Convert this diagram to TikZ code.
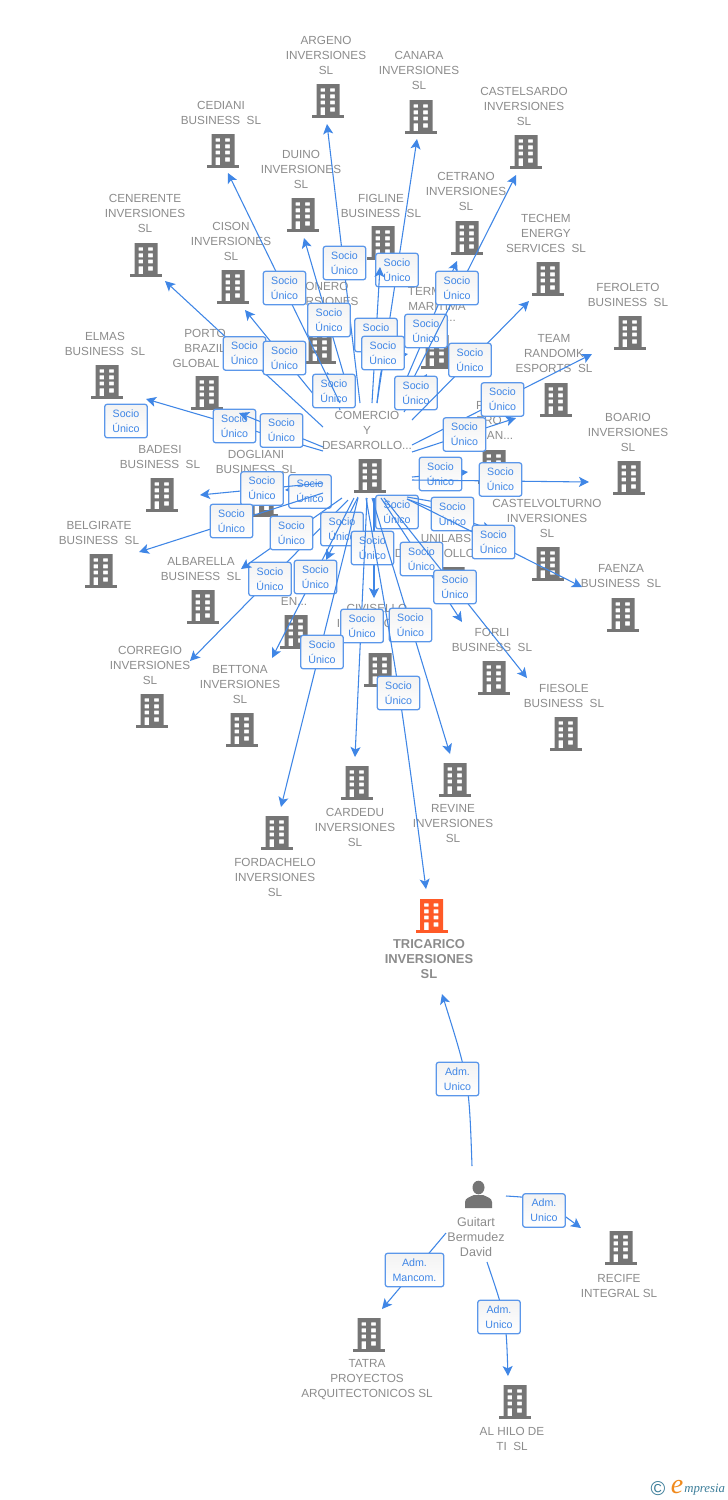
\documentclass[tikz,border=0pt]{standalone}
\usepackage{fontspec}
\setmainfont{Liberation Sans}
\newfontfamily\logoserif{Liberation Serif}
\usetikzlibrary{arrows.meta,shadings}
\definecolor{txtgray}{HTML}{8C8C8C}
\definecolor{bldgray}{HTML}{757575}
\definecolor{hot}{HTML}{FF5A27}
\definecolor{edgeblue}{HTML}{3F86E6}
\definecolor{tagblue}{HTML}{5B97EA}
\definecolor{tagtext}{HTML}{3F86E6}
\definecolor{logoteal}{HTML}{3B7D99}
\definecolor{logoorange}{HTML}{F08A1D}
\tikzset{
  x=0.75pt,y=-0.75pt,
  txt/.style={text=txtgray,align=center,inner sep=0pt,font=\fontsize{8.8}{11.25}\selectfont},
  txtb/.style={txt,font=\fontsize{9.7}{11.25}\selectfont\bfseries},
  txtp/.style={txt,font=\fontsize{9.4}{11.25}\selectfont},
  conn/.style={draw=edgeblue,line width=0.8pt,-{Stealth[length=7.5pt,width=7.5pt,inset=1.8pt]}},
  tagbox/.style={draw=tagblue,line width=0.95pt,rounded corners=2pt,top color=black!5,bottom color=white,
    minimum width=32pt,minimum height=25.2pt,inner sep=0pt,align=center,text=tagtext,
    font=\fontsize{8}{11.25}\selectfont},
  bldbox/.style={inner sep=0pt,minimum width=24pt,minimum height=25.5pt}
}
% building: name, x, y, colour
\newcommand\bldg[4][bldgray]{%
  \begin{scope}[shift={(#3,#4)}]
    \node[bldbox] (#2) at (0,0) {};
    \fill[#1,even odd rule] (-11.5,-17) rectangle (11.5,14.3)
      (-7.5,-12.7) rectangle (-2.8,-9.3) (2.2,-12.7) rectangle (6.8,-9.3)
      (-7.5,-6.7) rectangle (-2.8,-2.7) (2.2,-6.7) rectangle (6.8,-2.7)
      (-7.5,-0.3) rectangle (-2.8,3.3) (2.2,-0.3) rectangle (6.8,3.3)
      (-7.5,6.3) rectangle (-2.8,14.3) (2.2,6.3) rectangle (6.8,10.7);
    \fill[#1] (-16,14) rectangle (16,17);
  \end{scope}}
\newcommand\lab[3]{\node[txt] (#1) at (#2) {#3};}
\newcommand\edge[3]{\coordinate (#1-s) at (#2); \coordinate (#1-t) at (#3); \draw[conn] (#1-s) -- (#1-t);}
\newcommand\edgec[4]{\coordinate (#1-s) at (#2); \coordinate (#1-c) at (#3); \coordinate (#1-t) at (#4); \draw[conn] (#1-s) .. controls (#1-c) .. (#1-t);}
\newcommand\socio[2]{\node[tagbox] (#1-b) at (#2) {Socio\\Único};}
\newcommand\adm[3]{\node[tagbox,#3] (#1-b) at (#2) {Adm.\\Unico};}
\newcommand\BS{BUSINESS\ \ SL}
\begin{document}
\begin{tikzpicture}
\useasboundingbox (0,0) rectangle (728,1500);
\fill[white] (0,0) rectangle (728,1500);
% labels
\lab{l1}{326,55.5}{ARGENO\\INVERSIONES\\SL}
\lab{l2}{419,70}{CANARA\\INVERSIONES\\SL}
\lab{l3}{524,106}{CASTELSARDO\\INVERSIONES\\SL}
\lab{l4}{221,112.5}{CEDIANI\\\BS}
\lab{l5}{301,169}{DUINO\\INVERSIONES\\SL}
\lab{l6}{381,205.5}{FIGLINE\\\BS}
\lab{l7}{466,191}{CETRANO\\INVERSIONES\\SL}
\lab{l8}{546,233}{TECHEM\\ENERGY\\SERVICES\ \ SL}
\lab{l9}{628,294.5}{FEROLETO\\\BS}
\lab{l10}{145,213}{CENERENTE\\INVERSIONES\\SL}
\lab{l11}{231,241}{CISON\\INVERSIONES\\SL}
\lab{l12a}{327,286}{ONERO}
\lab{l12b}{332,301}{RSIONES}
\lab{l13a}{424.5,291}{TERM}
\lab{l13b}{437,306}{MARITIMA}
\lab{l13c}{451,321}{...}
\lab{l14a}{205,333}{PORTO}
\lab{l14b}{205,348}{BRAZIL}
\lab{l14c}{196,363}{GLOBAL}
\lab{l15}{554,354}{TEAM\\RANDOMK\\ESPORTS\ \ SL}
\lab{l16}{628,432}{BOARIO\\INVERSIONES\\SL}
\lab{l17}{105,343.5}{ELMAS\\\BS}
\lab{l18}{160,456.5}{BADESI\\\BS}
\lab{l19}{256,461.5}{DOGLIANI\\\BS}
\lab{l20}{367,430}{COMERCIO\\Y\\DESARROLLO...}
\lab{l21a}{480,405}{P}
\lab{l21b}{489,420}{ERO}
\lab{l21c}{500,435}{AN...}
\lab{l22}{547,518}{CASTELVOLTURNO\\INVERSIONES\\SL}
\lab{l23}{621,576.5}{FAENZA\\\BS}
\lab{l24a}{446,538}{UNILABS}
\lab{l24b}{435,553}{DESARROLLO}
\lab{l25}{201,569.5}{ALBARELLA\\\BS}
\lab{l26}{99,532.5}{BELGIRATE\\\BS}
\lab{l27}{492,639.5}{FORLI\\\BS}
\lab{l28}{564,695.5}{FIESOLE\\\BS}
\lab{l29}{377,623}{CIVISELLO\\INVERSIONES\\SL}
\lab{l30}{150,665}{CORREGIO\\INVERSIONES\\SL}
\lab{l31}{240,684}{BETTONA\\INVERSIONES\\SL}
\lab{l32}{294,601}{EN...}
\lab{l33}{355,827}{CARDEDU\\INVERSIONES\\SL}
\lab{l34}{453,824}{REVINE\\INVERSIONES\\SL}
\lab{l35}{275,877}{FORDACHELO\\INVERSIONES\\SL}
\node[txtb] (l36) at (429,959.5) {TRICARICO\\INVERSIONES\\SL};
\node[txtp] (l37) at (476,1237) {Guitart\\Bermudez\\David};
\lab{l38}{619,1285.5}{RECIFE\\INTEGRAL SL}
\lab{l39}{367,1380}{TATRA\\PROYECTOS\\ARQUITECTONICOS SL}
\lab{l40}{512,1438.5}{AL HILO DE\\TI\ \ SL}
% buildings
\bldg{b1}{328}{101}
\bldg{b2}{421}{117}
\bldg{b3}{526}{152}
\bldg{b4}{223}{151}
\bldg{b5}{303}{215}
\bldg{b6}{383}{243}
\bldg{b7}{467}{238}
\bldg{b8}{548}{279}
\bldg{b9}{630}{333}
\bldg{b10}{146}{260}
\bldg{b11}{233}{287}
\bldg{b12}{320}{347}
\bldg{b13}{437}{352}
\bldg{b14}{207}{393}
\bldg{b15}{556}{400}
\bldg{b16}{629}{478}
\bldg{b17}{107}{382}
\bldg{b18}{162}{495}
\bldg{b19}{262}{499.5}
\bldg{center}{370}{476}
\bldg{b21}{494}{467}
\bldg{b22}{548}{564}
\bldg{b23}{623}{615}
\bldg{b24}{453}{584}
\bldg{b25}{203}{607}
\bldg{b26}{101}{571}
\bldg{b27}{494}{678}
\bldg{b28}{566}{734}
\bldg{b29}{380}{670}
\bldg{b30}{152}{711}
\bldg{b31}{242}{730}
\bldg{b32}{296}{632}
\bldg{b33}{357}{783}
\bldg{b34}{455}{780}
\bldg{b35}{277}{833}
\bldg[hot]{b36}{431.5}{916}
\bldg{b38}{621}{1248}
\bldg{b39}{369}{1335}
\bldg{b40}{515}{1402}
% person
\node[inner sep=0pt,minimum width=21pt,minimum height=21pt] (person) at (478.5,1195) {};
\fill[bldgray] (478.5,1187.5) ellipse (6 and 6.8);
\fill[bldgray] (465,1208) -- (465,1202) .. controls (465,1198) and (470,1197) .. (474,1195) -- (483,1195)
  .. controls (487,1197) and (492,1198) .. (492,1202) -- (492,1208) -- cycle;
% connectors, in stacking order
\edge{e1}{360,403}{327,124} \socio{e1}{344.5,263}
\edge{e2}{377,403}{417,139} \socio{e2}{397,270}
\edge{e3}{372,403}{380,267} \socio{e3}{376,335}
\edgec{e4}{377,403}{382,358}{408,354} \socio{e4}{383,353}
\edge{e5}{396,403}{457,261} \socio{e5}{426,331}
\edge{e6}{401,403}{516,175} \socio{e6}{457,288}
\edge{e7}{404,412}{427,374} \socio{e7}{416,393}
\edge{e8}{412,420}{529,301} \socio{e8}{470,360}
\edge{e9}{352,403}{304,238} \socio{e9}{329,320}
\edge{e10}{323,427}{165,281} \socio{e10}{244.5,353.5}
\edge{e11}{323,406}{245,310} \socio{e11}{284.5,358}
\edge{e12}{340,410}{327,372} \socio{e12}{334,391}
\edge{e13}{340,403}{228,173} \socio{e13}{284.5,288}
\edge{e14}{412,445}{592,354} \socio{e14}{502.5,399.5}
\edge{e15}{412,452}{516,418} \socio{e15}{464.5,434.5}
\edge{e16}{323,451}{146,399} \socio{e16}{234.5,426}
\socio{e17}{126,421}
\edge{e18}{323,447}{239,413} \socio{e18}{281.5,430.5}
\edge{e19}{412,477}{468,472} \socio{e19}{440.5,474}
\edge{e20}{412,480}{589,482} \socio{e20}{500.5,479.5}
\edge{e21}{323,488}{285,490} \socio{e21}{310,491.5}
\edge{e22}{323,483}{200,495} \socio{e22}{262,488.5}
\edge{e23}{323,493}{139,552} \socio{e23}{231.5,521}
\edge{e24}{383,498}{409,527} \socio{e24}{397,512}
\edge{e25}{407,497}{470,508}
\edge{e26}{407,499}{492,530} \socio{e26}{452.5,514}
\edge{e27}{407,499}{582,587} \socio{e27}{493.5,542}
\edge{e28}{381,498}{462,622} \socio{e28}{421.5,559}
\edge{e29}{384,498}{527,678} \socio{e29}{455,587}
\edge{e30}{348,500}{190,661} \socio{e30}{270,579}
\edge{e31}{342,498}{241,569} \socio{e31}{291.5,533}
\edge{e32}{358,497}{326,560} \socio{e32}{342,529}
\edge{e33}{354,498}{272,658} \socio{e33}{315.5,577}
\edge{e34}{374,498}{374,598} \socio{e34}{372.5,548}
\edge{e35}{367,498}{355,757} \socio{e35}{362,626}
\edge{e36}{372,498}{450,754} \socio{e36}{410.5,625}
\edge{e37}{358,498}{281,807} \socio{e37}{322,652}
\edgec{e38}{366,498}{400,692}{426,889} \socio{e38}{398.5,693}
% administrators
\edgec{e39}{472,1166}{469,1080}{442,994} \adm{e39}{457.5,1079}{}
\edgec{e40}{506,1196}{540,1198}{581,1228} \adm{e40}{544,1210.5}{}
\edge{e41}{446,1233}{382,1309} \node[tagbox,minimum width=44pt] (e41-b) at (414.5,1270) {Adm.\\Mancom.};
\edgec{e42}{487,1262}{506,1318}{508,1376} \adm{e42}{499,1317}{}
% logo
\node[inner sep=0pt,text=logoteal,font=\fontsize{15}{15}\selectfont] (logoc) at (658,1488.5) {©};
\node[inner sep=0pt,text=logoorange,font=\logoserif\itshape\fontsize{21}{21}\selectfont] (logoe) at (677,1487) {e};
\node[inner sep=0pt,anchor=west,text=logoteal,font=\logoserif\itshape\fontsize{9.6}{10}\selectfont] (logot) at (684,1490) {mpresia};
\end{tikzpicture}
\end{document}
